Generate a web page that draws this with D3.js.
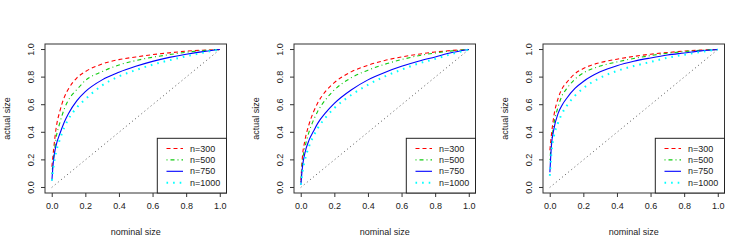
<!DOCTYPE html>
<html>
<head>
<meta charset="utf-8">
<script src="https://cdn.jsdelivr.net/npm/d3@7"></script>
<style>
  body { margin: 0; background: #fff; }
  text { font-family: "Liberation Sans", Arial, sans-serif; font-size: 9px; fill: #222; }
</style>
</head>
<body>
<div id="chart"></div>
<script>
// nominal size grid shared by all panels
const nominal = [0.001, 0.01, 0.025, 0.05, 0.075, 0.1, 0.15, 0.2, 0.3, 0.4, 0.5, 0.6, 0.7, 0.8, 0.9, 1.0]
const seriesNames = ['n=300', 'n=500', 'n=750', 'n=1000']
const xTicks = [0, 0.2, 0.4, 0.6, 0.8, 1.0]
const yTicks = [0, 0.2, 0.4, 0.6, 0.8, 1.0]

// actual size, panel 1
const p1n300  = [0.15, 0.26, 0.42, 0.56, 0.655, 0.715, 0.795, 0.84, 0.895, 0.927, 0.946, 0.963, 0.976, 0.988, 0.995, 1]
const p1n500  = [0.10, 0.20, 0.35, 0.475, 0.57, 0.635, 0.71, 0.775, 0.84, 0.888, 0.92, 0.944, 0.963, 0.98, 0.993, 1]
const p1n750  = [0.05, 0.19, 0.30, 0.395, 0.475, 0.537, 0.63, 0.695, 0.78, 0.835, 0.878, 0.914, 0.943, 0.966, 0.985, 1]
const p1n1000 = [0.05, 0.146, 0.25, 0.354, 0.436, 0.497, 0.58, 0.64, 0.74, 0.805, 0.851, 0.89, 0.922, 0.951, 0.977, 1]
// panel 2
const p2n300  = [0.05, 0.22, 0.34, 0.46, 0.545, 0.61, 0.70, 0.76, 0.838, 0.886, 0.921, 0.946, 0.966, 0.982, 0.993, 1]
const p2n500  = [0.04, 0.183, 0.29, 0.405, 0.485, 0.549, 0.64, 0.707, 0.795, 0.85, 0.893, 0.927, 0.955, 0.975, 0.99, 1]
const p2n750  = [0.02, 0.146, 0.25, 0.345, 0.405, 0.463, 0.545, 0.61, 0.707, 0.78, 0.834, 0.878, 0.915, 0.946, 0.978, 1]
const p2n1000 = [0.02, 0.11, 0.20, 0.30, 0.37, 0.427, 0.51, 0.575, 0.67, 0.744, 0.805, 0.854, 0.898, 0.932, 0.968, 1]
// panel 3
const p3n300  = [0.27, 0.38, 0.52, 0.646, 0.72, 0.76, 0.825, 0.862, 0.905, 0.93, 0.95, 0.966, 0.978, 0.989, 0.996, 1]
const p3n500  = [0.20, 0.32, 0.46, 0.585, 0.67, 0.715, 0.785, 0.83, 0.88, 0.91, 0.935, 0.956, 0.973, 0.985, 0.995, 1]
const p3n750  = [0.11, 0.30, 0.425, 0.537, 0.60, 0.645, 0.718, 0.768, 0.838, 0.883, 0.915, 0.939, 0.96, 0.975, 0.99, 1]
const p3n1000 = [0.085, 0.25, 0.37, 0.47, 0.54, 0.59, 0.665, 0.72, 0.795, 0.845, 0.88, 0.91, 0.94, 0.962, 0.982, 1]

const panels = [
    [p1n300, p1n500, p1n750, p1n1000],
    [p2n300, p2n500, p2n750, p2n1000],
    [p3n300, p3n500, p3n750, p3n1000]
]

// line styles, R lty 2 / 4 / 1 / 3
const styles = [
    { color: '#ff0000', width: 1.1, dash: '4,3' },
    { color: '#11cc11', width: 1.1, dash: '1,3,4,3' },
    { color: '#0000ff', width: 1.1, dash: null },
    { color: '#00ffff', width: 2, dash: '1.6,5' }
]

const width = 747, height = 249
const panelW = 249
const box = { left: 45, right: 226.5, top: 44, bottom: 193 }

const svg = d3.select('#chart').append('svg')
    .attr('width', width)
    .attr('height', height)

const x = d3.scaleLinear().domain([-0.04, 1.04]).range([box.left, box.right])
const y = d3.scaleLinear().domain([-0.04, 1.04]).range([box.bottom, box.top])

panels.forEach(function(series, p) {
    const g = svg.append('g')
        .attr('transform', 'translate(' + (p * panelW) + ',0)')

    // diagonal reference
    g.append('line')
        .attr('x1', x(0)).attr('y1', y(0))
        .attr('x2', x(1)).attr('y2', y(1))
        .attr('stroke', '#555')
        .attr('stroke-width', 1)
        .attr('stroke-dasharray', '1,3')

    const line = d3.line()
        .x(function(d) { return x(d[0]) })
        .y(function(d) { return y(d[1]) })
        .curve(d3.curveMonotoneX)

    series.forEach(function(vals, i) {
        const s = styles[i]
        g.append('path')
            .datum(nominal.map(function(n, k) { return [n, vals[k]] }))
            .attr('d', line)
            .attr('fill', 'none')
            .attr('stroke', s.color)
            .attr('stroke-width', s.width)
            .attr('stroke-dasharray', s.dash)
    })

    // axes
    const xAxis = g.append('g')
        .attr('transform', 'translate(0,' + box.bottom + ')')
        .call(d3.axisBottom(x).tickValues(xTicks).tickFormat(d3.format('.1f')).tickSize(4).tickPadding(6))
    const yAxis = g.append('g')
        .attr('transform', 'translate(' + box.left + ',0)')
        .call(d3.axisLeft(y).tickValues(yTicks).tickFormat(d3.format('.1f')).tickSize(4).tickPadding(6))
    xAxis.select('.domain').remove()
    yAxis.select('.domain').remove()
    xAxis.selectAll('line').attr('stroke', '#333')
    yAxis.selectAll('line').attr('stroke', '#333')
    xAxis.selectAll('text').style('font-size', '9px').attr('fill', '#222')
    yAxis.selectAll('text')
        .style('font-size', '9px').attr('fill', '#222')
        .attr('text-anchor', 'middle')
        .attr('transform', function(d) { return 'translate(' + (-14) + ',' + y(d) + ') rotate(-90)' })
        .attr('x', 0).attr('y', 0).attr('dy', '0.35em')
    yAxis.selectAll('.tick').attr('transform', null)
    yAxis.selectAll('.tick line').attr('transform', function(d) { return 'translate(0,' + y(d) + ')' })

    // frame
    g.append('rect')
        .attr('x', box.left).attr('y', box.top)
        .attr('width', box.right - box.left)
        .attr('height', box.bottom - box.top)
        .attr('fill', 'none')
        .attr('stroke', '#333')
        .attr('stroke-width', 1)

    // axis titles
    g.append('text')
        .attr('x', (box.left + box.right) / 2)
        .attr('y', 235)
        .attr('text-anchor', 'middle')
        .text('nominal size')
    g.append('text')
        .attr('transform', 'translate(10,' + ((box.top + box.bottom) / 2) + ') rotate(-90)')
        .attr('text-anchor', 'middle')
        .text('actual size')

    // legend
    const lg = g.append('g')
    lg.append('rect')
        .attr('x', 157.3).attr('y', 138.3)
        .attr('width', box.right - 157.3)
        .attr('height', box.bottom - 138.3)
        .attr('fill', '#fff')
        .attr('stroke', '#222')
        .attr('stroke-width', 1)
    seriesNames.forEach(function(name, i) {
        const s = styles[i]
        const ly = 148.5 + i * 11.4
        lg.append('line')
            .attr('x1', 166.5).attr('x2', 183)
            .attr('y1', ly).attr('y2', ly)
            .attr('stroke', s.color)
            .attr('stroke-width', s.width)
            .attr('stroke-dasharray', s.dash)
        lg.append('text')
            .attr('x', 190)
            .attr('y', ly)
            .attr('dy', '0.35em')
            .text(name)
    })
})
</script>
</body>
</html>
